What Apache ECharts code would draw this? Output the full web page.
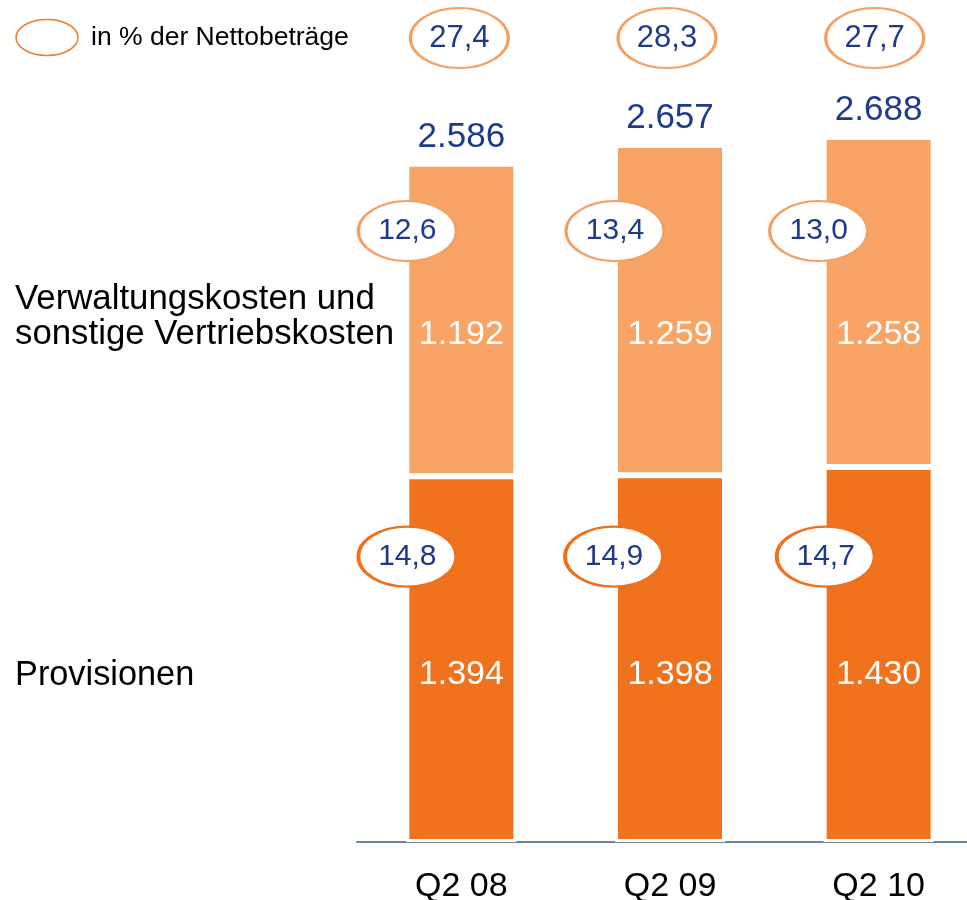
<!DOCTYPE html>
<html>
<head>
<meta charset="utf-8">
<script src="https://cdn.jsdelivr.net/npm/echarts@6/dist/echarts.min.js"></script>
<style>
  html, body { margin: 0; padding: 0; background: #fff; }
  #chart { width: 967px; height: 900px; }
</style>
</head>
<body>
<div id="chart"></div>
<script>
// Daten
const categories = ['Q2 08', 'Q2 09', 'Q2 10'];
const provisionen = [1394, 1398, 1430];
const verwaltung = [1192, 1259, 1258];
const totals = [2586, 2657, 2688];
const pctGesamt = ['27,4', '28,3', '27,7'];
const pctVerwaltung = ['12,6', '13,4', '13,0'];
const pctProvision = ['14,8', '14,9', '14,7'];

// feste Höhen (in Achsen-Einheiten) für Beschriftungen / Ellipsen
const LEVEL_TOP_ELLIPSE = 3065;
const LEVEL_MID_ELLIPSE = 2329;
const LEVEL_LIGHT_LABEL = 1933;
const LEVEL_LOW_ELLIPSE = 1088;
const LEVEL_DARK_LABEL = 637;
const topShift = [-2, -3, -4];
const midShift = [-54, -55, -60];
const lowShift = [-54, -56, -53];

const FONT = '"Liberation Sans", Arial, sans-serif';
const BLUE = '#1d3a8c';
const DARK = '#f0721c';
const LIGHT = '#f8a466';
const ELLIPSE = 'path://M0,30 A50,30 0 1,1 100,30 A50,30 0 1,1 0,30 Z';

const chart = echarts.init(document.getElementById('chart'));

function ellipseSeries(texts, level, shifts, border, bw, fontSize) {
    return {
        type: 'scatter',
        z: 5,
        symbol: ELLIPSE,
        symbolSize: [98, 60],
        data: categories.map((c, i) => ({
            value: [c, level],
            symbolOffset: [shifts[i], 0]
        })),
        itemStyle: { color: '#fff', borderColor: border, borderWidth: bw, opacity: 1 },
        label: {
            show: true, position: 'inside', color: BLUE, fontSize: fontSize, fontFamily: FONT,
            formatter: p => texts[p.dataIndex]
        },
        silent: true
    };
}

function textSeries(texts, level, color, position, distance, fontSize) {
    return {
        type: 'scatter',
        z: 6,
        symbolSize: 0,
        data: categories.map((c, i) => ({ value: [c, level === null ? totals[i] : level] })),
        itemStyle: { opacity: 1 },
        label: {
            show: true,
            position: position,
            distance: distance,
            color: color,
            fontSize: fontSize,
            fontFamily: FONT,
            formatter: p => texts[p.dataIndex]
        },
        silent: true
    };
}

const fmt = v => String(v).replace(/(\d)(\d{3})$/, '$1.$2');

const option = {
    animation: false,
    grid: { left: 357, top: 0, width: 626, bottom: 58, containLabel: false, outerBoundsMode: 'none' },
    xAxis: {
        type: 'category',
        data: categories,
        axisLine: { lineStyle: { color: '#6d84a0', width: 2 } },
        axisTick: { show: false },
        axisLabel: { color: '#000', fontSize: 34, fontFamily: FONT, margin: 28 }
    },
    yAxis: { type: 'value', min: 0, max: 3210, show: false, splitLine: { show: false } },
    series: [
        {
            name: 'Provisionen',
            type: 'bar',
            stack: 'kosten',
            barWidth: 110,
            data: provisionen,
            itemStyle: { color: DARK, borderColor: '#fff', borderWidth: 3 }
        },
        {
            name: 'Verwaltungskosten',
            type: 'bar',
            stack: 'kosten',
            barWidth: 110,
            data: verwaltung,
            itemStyle: { color: LIGHT, borderColor: '#fff', borderWidth: 3 }
        },
        ellipseSeries(pctGesamt, LEVEL_TOP_ELLIPSE, topShift, '#f4a064', 2.5, 31),
        ellipseSeries(pctVerwaltung, LEVEL_MID_ELLIPSE, midShift, '#f4a064', 2.5, 30),
        ellipseSeries(pctProvision, LEVEL_LOW_ELLIPSE, lowShift, '#ef6f1c', 3, 30),
        textSeries(totals.map(fmt), null, BLUE, 'top', 9, 35),
        textSeries(verwaltung.map(fmt), LEVEL_LIGHT_LABEL, '#fff', 'inside', 0, 34),
        textSeries(provisionen.map(fmt), LEVEL_DARK_LABEL, '#fff', 'inside', 0, 34)
    ],
    graphic: [
        {
            type: 'ellipse',
            shape: { cx: 47, cy: 37.5, rx: 31, ry: 18 },
            style: { fill: '#fff', stroke: '#ef7b2b', lineWidth: 1.5 }
        },
        {
            type: 'text',
            left: 91,
            top: 24,
            style: { text: 'in % der Nettobeträge', fill: '#000', fontSize: 26.5, fontFamily: FONT }
        },
        {
            type: 'text',
            left: 15,
            top: 282,
            style: {
                text: 'Verwaltungskosten und\nsonstige Vertriebskosten',
                fill: '#000', fontSize: 34.8, lineHeight: 35, fontFamily: FONT
            }
        },
        {
            type: 'text',
            left: 15,
            top: 659,
            style: { text: 'Provisionen', fill: '#000', fontSize: 34.3, fontFamily: FONT }
        }
    ]
};

chart.setOption(option);
window.addEventListener('resize', () => chart.resize());
</script>
</body>
</html>
